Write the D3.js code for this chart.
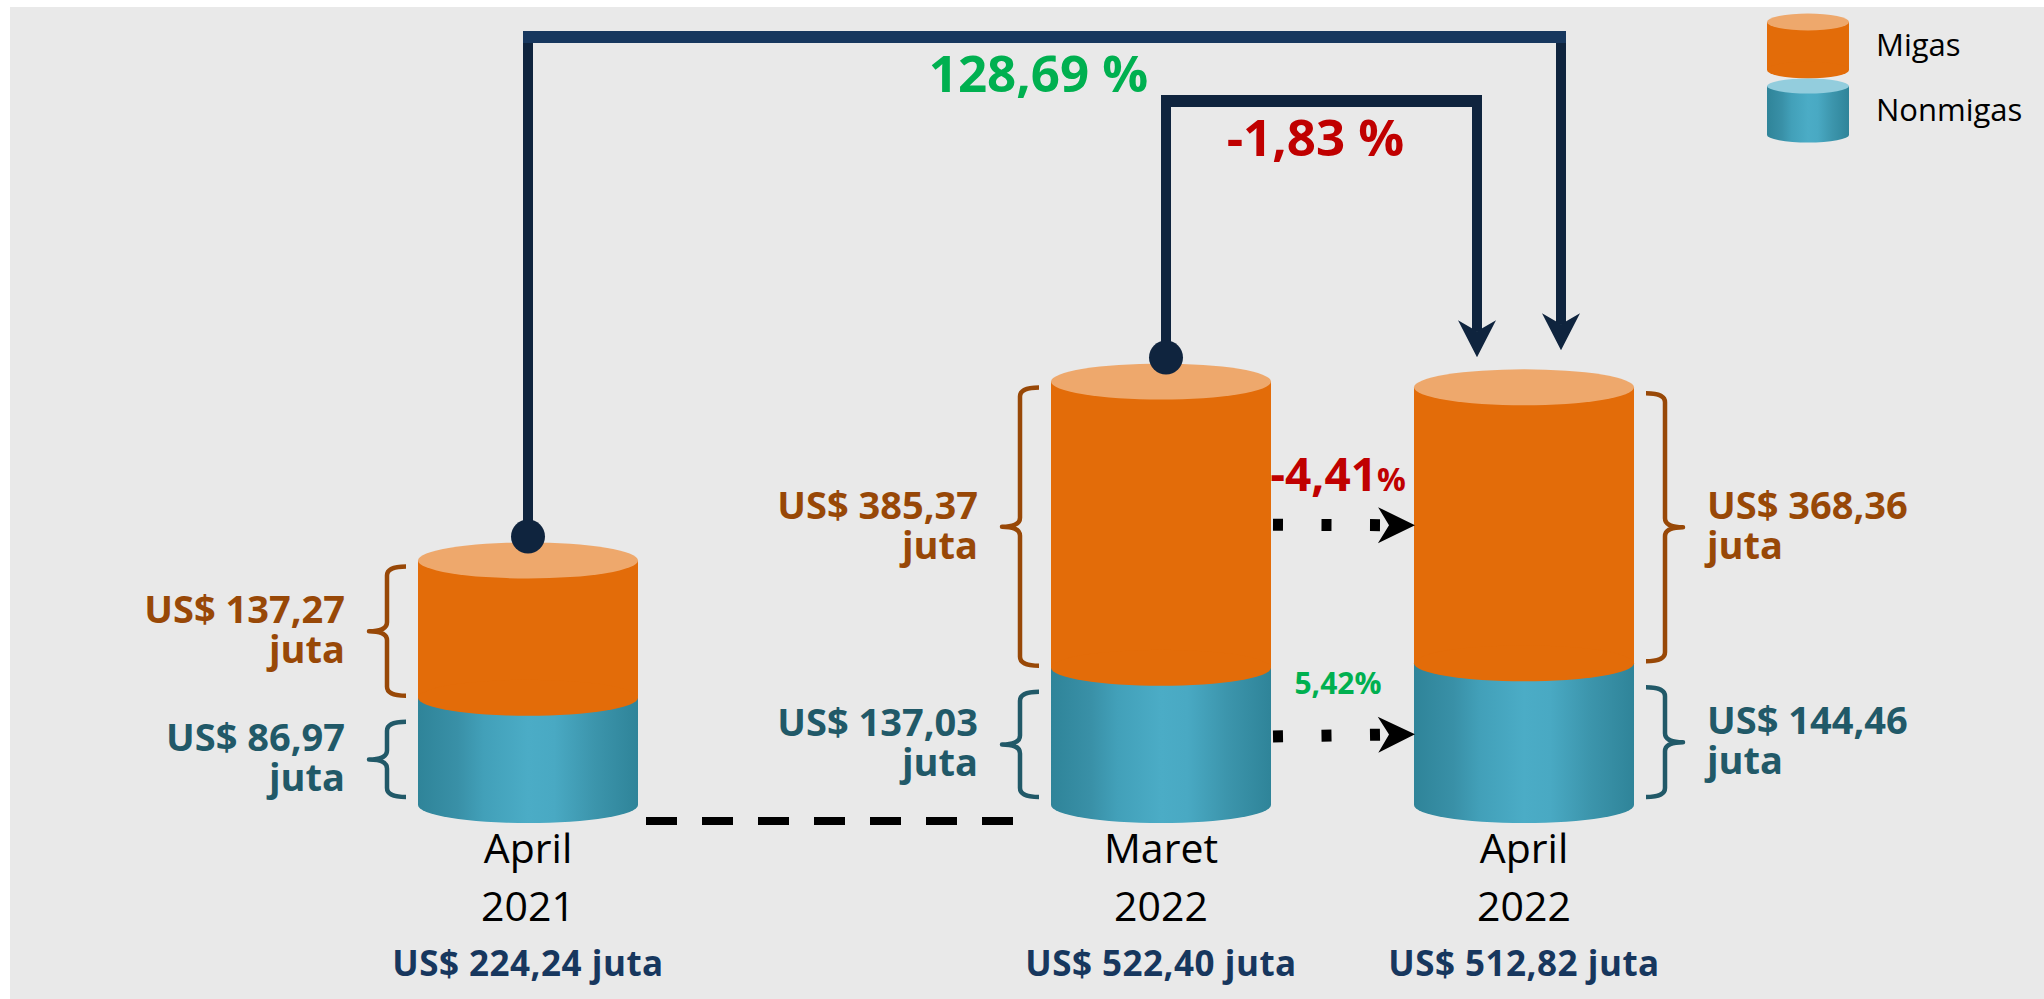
<!DOCTYPE html>
<html>
<head>
<meta charset="utf-8">
<script src="https://cdn.jsdelivr.net/npm/d3@7"></script>
<style>
  html, body { margin: 0; padding: 0; background: #ffffff; }
  svg { display: block; }
  text { font-family: "Open Sans", "Noto Sans", sans-serif; }
</style>
</head>
<body>
<svg id="chart" width="2044" height="999"></svg>
<script>
// Nilai ekspor per periode (US$ juta)
const periodMonths   = ["April", "Maret", "April"];
const periodYears    = ["2021", "2022", "2022"];
const migasValues    = [137.27, 385.37, 368.36];
const nonmigasValues = [86.97, 137.03, 144.46];
const seriesNames    = ["Migas", "Nonmigas"];

const W = 2044, H = 999;
const svg = d3.select("#chart");

// Indonesian number format: decimal comma, hyphen minus
const loc = d3.formatLocale({ decimal: ",", thousands: ".", grouping: [3], currency: ["US$ ", ""], minus: "-" });
const fmt = loc.format(",.2f");
const money = v => "US$ " + fmt(v);
const change = (from, to) => fmt((to - from) / from * 100);

const totals = migasValues.map((m, i) => m + nonmigasValues[i]);

// colours
const C = {
  bg: "#e9e9e9",
  orange: "#e36c09",
  orangeTop: "#eea86c",
  orangeText: "#984807",
  blueText: "#215968",
  navy: "#0f243e",
  navyLight: "#17375e",
  green: "#00b050",
  red: "#c00000"
};

// background panel
svg.append("rect").attr("x", 10).attr("y", 7).attr("width", W - 10).attr("height", H - 7).attr("fill", C.bg);

// gradients
const defs = svg.append("defs");
const g1 = defs.append("linearGradient").attr("id", "blueBody").attr("x1", 0).attr("x2", 1).attr("y1", 0).attr("y2", 0);
[[0, "#2f8499"], [0.18, "#3990a7"], [0.3, "#42a0b9"], [0.5, "#4bacc6"], [0.62, "#49a9c3"], [0.8, "#3c95ac"], [1, "#2f8499"]]
  .forEach(([o, c]) => g1.append("stop").attr("offset", o).attr("stop-color", c));

// scales
const x = d3.scaleOrdinal().domain(d3.range(periodMonths.length)).range([528, 1161, 1524]);
const segH = d3.scaleLinear().domain([0, 400]).range([55, 295]);
const baseY = 805, RX = 110, RY = 18;

const geom = d3.range(periodMonths.length).map(i => {
  const yBase = baseY;
  const yMid = yBase - segH(nonmigasValues[i]);
  const yTop = yMid - segH(migasValues[i]);
  return { i, cx: x(i), yBase, yMid, yTop };
});

// cylinders
const cyl = svg.append("g").selectAll("g").data(geom).join("g");
cyl.append("rect").attr("x", d => d.cx - RX).attr("y", d => d.yMid).attr("width", 2 * RX)
  .attr("height", d => d.yBase - d.yMid).attr("fill", "url(#blueBody)");
cyl.append("ellipse").attr("cx", d => d.cx).attr("cy", d => d.yBase).attr("rx", RX).attr("ry", RY)
  .attr("fill", "url(#blueBody)");
cyl.append("rect").attr("x", d => d.cx - RX).attr("y", d => d.yTop).attr("width", 2 * RX)
  .attr("height", d => d.yMid - d.yTop).attr("fill", C.orange);
cyl.append("ellipse").attr("cx", d => d.cx).attr("cy", d => d.yMid).attr("rx", RX).attr("ry", RY)
  .attr("fill", C.orange);
cyl.append("ellipse").attr("cx", d => d.cx).attr("cy", d => d.yTop).attr("rx", RX).attr("ry", RY)
  .attr("fill", C.orangeTop);

// curly brace; dir = -1 points left, +1 points right
function brace(xv, y1, y2, dir) {
  const e = -dir * 19, t = dir * 18, r = 9, ym = (y1 + y2) / 2;
  return `M${xv + e},${y1} Q${xv},${y1} ${xv},${y1 + r} L${xv},${ym - r} Q${xv},${ym} ${xv + t},${ym}` +
         ` Q${xv},${ym} ${xv},${ym + r} L${xv},${y2 - r} Q${xv},${y2} ${xv + e},${y2}`;
}

const braces = [];
geom.forEach(d => {
  const dir = d.i === geom.length - 1 ? 1 : -1;
  braces.push({ d, dir, y1: d.yTop + 6, y2: d.yMid - 2, value: migasValues[d.i], color: C.orangeText });
  braces.push({ d, dir, y1: d.yMid + 24, y2: d.yBase - 8, value: nonmigasValues[d.i], color: C.blueText });
});

const br = svg.append("g").selectAll("g").data(braces).join("g");
br.append("path")
  .attr("d", b => brace(b.d.cx + b.dir * 141, b.y1, b.y2, b.dir))
  .attr("fill", "none").attr("stroke", b => b.color).attr("stroke-width", 4.5)
  .attr("stroke-linejoin", "round");
const brText = br.append("text")
  .attr("text-anchor", b => b.dir < 0 ? "end" : "start")
  .attr("fill", b => b.color).attr("font-weight", 700).attr("font-size", 38);
brText.append("tspan")
  .attr("x", b => b.d.cx + b.dir * 183).attr("y", b => (b.y1 + b.y2) / 2 - 8)
  .text(b => money(b.value));
brText.append("tspan")
  .attr("x", b => b.d.cx + b.dir * 183).attr("y", b => (b.y1 + b.y2) / 2 + 32)
  .text("juta");

// period labels and totals
const lab = svg.append("g").selectAll("g").data(geom).join("g");
lab.append("text").attr("x", d => d.cx).attr("y", baseY + 58).attr("text-anchor", "middle")
  .attr("font-size", 41).attr("fill", "#000").text(d => periodMonths[d.i]);
lab.append("text").attr("x", d => d.cx).attr("y", baseY + 116).attr("text-anchor", "middle")
  .attr("font-size", 41).attr("fill", "#000").text(d => periodYears[d.i]);
lab.append("text").attr("x", d => d.cx).attr("y", baseY + 171).attr("text-anchor", "middle")
  .attr("font-size", 35).attr("font-weight", 700).attr("letter-spacing", 0.5)
  .attr("fill", C.navyLight).text(d => money(totals[d.i]) + " juta");

// dashed baseline link between the first two periods
svg.append("line")
  .attr("x1", geom[0].cx + RX + 8).attr("x2", geom[1].cx - RX - 37)
  .attr("y1", baseY + 16).attr("y2", baseY + 16)
  .attr("stroke", "#000").attr("stroke-width", 8).attr("stroke-dasharray", "31 25");

// arrowhead pointing along +x in local coords
function arrowHead(g, tx, ty, angle, len, half, notch, color) {
  g.append("path")
    .attr("d", `M0,0 L${-len},${-half} L${-len + notch},0 L${-len},${half} Z`)
    .attr("transform", `translate(${tx},${ty}) rotate(${angle})`)
    .attr("fill", color);
}

// elbow connectors from earlier totals to April 2022
const conn = svg.append("g");
const last = geom[geom.length - 1];
const links = [
  { from: geom[0], fromDx: 0, toDx: 37, level: 37, tipGap: 19, label: change(totals[0], totals[2]) + " %", color: C.green, barColor: C.navyLight },
  { from: geom[1], fromDx: 5, toDx: -47, level: 101, tipGap: 12, label: change(totals[1], totals[2]) + " %", color: C.red, barColor: C.navy }
];
links.forEach(l => {
  const x0 = l.from.cx + l.fromDx, x1 = last.cx + l.toDx;
  const dotY = l.from.yTop - RY - 6;
  const tipY = last.yTop - RY - l.tipGap;
  conn.append("path")
    .attr("d", `M${x0},${dotY} L${x0},${l.level}`)
    .attr("stroke", C.navy).attr("stroke-width", 10).attr("fill", "none");
  conn.append("path")
    .attr("d", `M${x1},${l.level} L${x1},${tipY - 26}`)
    .attr("stroke", C.navy).attr("stroke-width", 10).attr("fill", "none");
  conn.append("path")
    .attr("d", `M${x0 - 5},${l.level} L${x1 + 5},${l.level}`)
    .attr("stroke", l.barColor).attr("stroke-width", 12).attr("fill", "none");
  conn.append("circle").attr("cx", x0).attr("cy", dotY).attr("r", 17).attr("fill", C.navy);
  arrowHead(conn, x1, tipY, 90, 37, 19, 11, C.navy);
  conn.append("text")
    .attr("x", (x0 + x1) / 2 - 6).attr("y", l.level + 55)
    .attr("text-anchor", "middle").attr("font-size", 51).attr("font-weight", 700)
    .attr("fill", l.color).text(l.label);
});

// dotted arrows comparing each series between Maret and April 2022
const prev = geom[1];
const seriesLinks = [
  { y0: (prev.yTop + prev.yMid) / 2, y1: (last.yTop + last.yMid) / 2, from: migasValues[1], to: migasValues[2], color: C.red, big: 46, small: 32, gap: 34 },
  { y0: (prev.yMid + prev.yBase) / 2, y1: (last.yMid + last.yBase) / 2, from: nonmigasValues[1], to: nonmigasValues[2], color: C.green, big: 30, small: 30, gap: 40 }
];
seriesLinks.forEach(s => {
  const xs = prev.cx + RX + 2, xt = last.cx - RX + 1;
  const ang = Math.atan2(s.y1 - s.y0, xt - xs);
  const lineEnd = 26;
  svg.append("line")
    .attr("x1", xs).attr("y1", s.y0)
    .attr("x2", xt - lineEnd * Math.cos(ang)).attr("y2", s.y1 - lineEnd * Math.sin(ang))
    .attr("stroke", "#000").attr("stroke-width", 12).attr("stroke-dasharray", "10 38.5");
  arrowHead(svg, xt, s.y1, ang * 180 / Math.PI, 37, 18, 11, "#000");
  const t = svg.append("text")
    .attr("x", (xs + xt) / 2 - 6).attr("y", Math.min(s.y0, s.y1) - s.gap)
    .attr("text-anchor", "middle").attr("font-weight", 700).attr("fill", s.color);
  t.append("tspan").attr("font-size", s.big).text(change(s.from, s.to));
  t.append("tspan").attr("font-size", s.small).text("%");
});

// legend
const legend = svg.append("g");
const legendItems = [
  { name: seriesNames[0], top: 22, bottom: 70, ry: 8.5, body: C.orange, cap: C.orangeTop },
  { name: seriesNames[1], top: 86, bottom: 135, ry: 7.5, body: "url(#blueBody)", cap: "#93cddd" }
];
const lcx = 1808, lrx = 41;
legendItems.forEach(it => {
  legend.append("rect").attr("x", lcx - lrx).attr("y", it.top).attr("width", 2 * lrx)
    .attr("height", it.bottom - it.top).attr("fill", it.body);
  legend.append("ellipse").attr("cx", lcx).attr("cy", it.bottom).attr("rx", lrx).attr("ry", it.ry).attr("fill", it.body);
  legend.append("ellipse").attr("cx", lcx).attr("cy", it.top).attr("rx", lrx).attr("ry", it.ry).attr("fill", it.cap);
  legend.append("text").attr("x", 1876).attr("y", (it.top + it.bottom) / 2 + 10)
    .attr("font-size", 31).attr("fill", "#000").text(it.name);
});
</script>
</body>
</html>
